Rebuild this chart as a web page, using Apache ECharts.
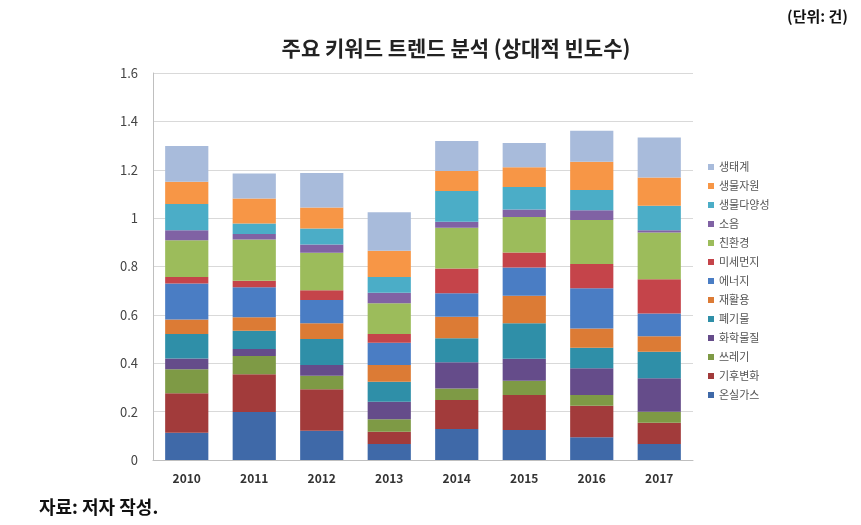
<!DOCTYPE html>
<html><head><meta charset="utf-8">
<script src="https://cdn.jsdelivr.net/npm/echarts@6/dist/echarts.min.js"></script>
<style>html,body{margin:0;padding:0;background:#fff}#c{width:861px;height:525px}</style>
</head><body><div id="c"></div>
<script>
const years = ['2010','2011','2012','2013','2014','2015','2016','2017'];
const yTicks = [0, 0.2, 0.4, 0.6, 0.8, 1, 1.2, 1.4, 1.6];
// series, bottom to top
const 온실가스 = [0.113, 0.198, 0.121, 0.066, 0.128, 0.124, 0.094, 0.066];
const 기후변화 = [0.163, 0.157, 0.171, 0.051, 0.120, 0.145, 0.130, 0.088];
const 쓰레기 = [0.099, 0.075, 0.056, 0.051, 0.048, 0.059, 0.045, 0.046];
const 화학물질 = [0.045, 0.029, 0.045, 0.073, 0.108, 0.091, 0.110, 0.138];
const 폐기물 = [0.101, 0.075, 0.107, 0.083, 0.099, 0.146, 0.085, 0.110];
const 재활용 = [0.060, 0.056, 0.065, 0.069, 0.089, 0.114, 0.080, 0.064];
const 에너지 = [0.149, 0.124, 0.096, 0.092, 0.097, 0.117, 0.166, 0.094];
const 미세먼지 = [0.027, 0.027, 0.041, 0.036, 0.103, 0.062, 0.100, 0.141];
const 친환경 = [0.152, 0.171, 0.155, 0.127, 0.168, 0.147, 0.182, 0.194];
const 소음 = [0.041, 0.022, 0.034, 0.043, 0.025, 0.031, 0.041, 0.009];
const 생물다양성 = [0.108, 0.044, 0.066, 0.066, 0.127, 0.093, 0.083, 0.101];
const 생물자원 = [0.092, 0.103, 0.087, 0.108, 0.083, 0.081, 0.117, 0.117];
const 생태계 = [0.148, 0.104, 0.143, 0.159, 0.124, 0.101, 0.128, 0.165];

const seriesNames = ['온실가스','기후변화','쓰레기','화학물질','폐기물','재활용','에너지','미세먼지','친환경','소음','생물다양성','생물자원','생태계'];
const seriesData = [온실가스,기후변화,쓰레기,화학물질,폐기물,재활용,에너지,미세먼지,친환경,소음,생물다양성,생물자원,생태계];
const colors = ['#3F69A8','#A23B3B','#7E9A45','#654C8A','#2F8FA8','#DC7B35','#4A7DC4','#C5444A','#9CBC5B','#8062A4','#4BADC7','#F79646','#A8BBDB'];

const chart = echarts.init(document.getElementById('c'));
const font = '"Noto Sans CJK KR", "Noto Sans", sans-serif';
chart.setOption({
  animation: false,
  textStyle: { fontFamily: font },
  color: colors,
  title: [
    { text: '주요 키워드 트렌드 분석 (상대적 빈도수)', left: 451, textAlign: 'center', top: 33,
      textStyle: { fontSize: 21, fontWeight: 'bold', color: '#222', fontFamily: font } },
    { text: '(단위: 건)', right: 8, top: 4,
      textStyle: { fontSize: 15, fontWeight: 'bold', color: '#111', fontFamily: font } },
    { text: '자료: 저자 작성.', left: 34, top: 493,
      textStyle: { fontSize: 18, fontWeight: 'bold', color: '#111', fontFamily: font } }
  ],
  legend: {
    orient: 'vertical', left: 703, top: 156,
    data: seriesNames.slice().reverse(),
    icon: 'rect', itemWidth: 6, itemHeight: 6, itemGap: 7,
    textStyle: { fontSize: 11, color: '#555', lineHeight: 12, fontFamily: font }
  },
  grid: { left: 153, right: 168, top: 73, bottom: 65 },
  xAxis: {
    type: 'category', data: years,
    axisLine: { lineStyle: { color: '#BFBFBF' } },
    axisTick: { show: false },
    axisLabel: { color: '#333', fontSize: 12, fontWeight: 'bold', margin: 12 }
  },
  yAxis: {
    type: 'value', min: 0, max: 1.6, interval: 0.2,
    axisLine: { show: true, lineStyle: { color: '#BFBFBF' } },
    axisTick: { show: false },
    splitLine: { lineStyle: { color: '#D9D9D9' } },
    axisLabel: { color: '#444', fontSize: 13, margin: 15,
      formatter: v => { const t = yTicks.find(x => Math.abs(x - v) < 1e-6); return t === undefined ? '' : String(+t.toFixed(1)); } }
  },
  series: seriesNames.map((n, i) => ({
    name: n, type: 'bar', stack: 'all', data: seriesData[i],
    barCategoryGap: '36%'
  }))
});
</script></body></html>
